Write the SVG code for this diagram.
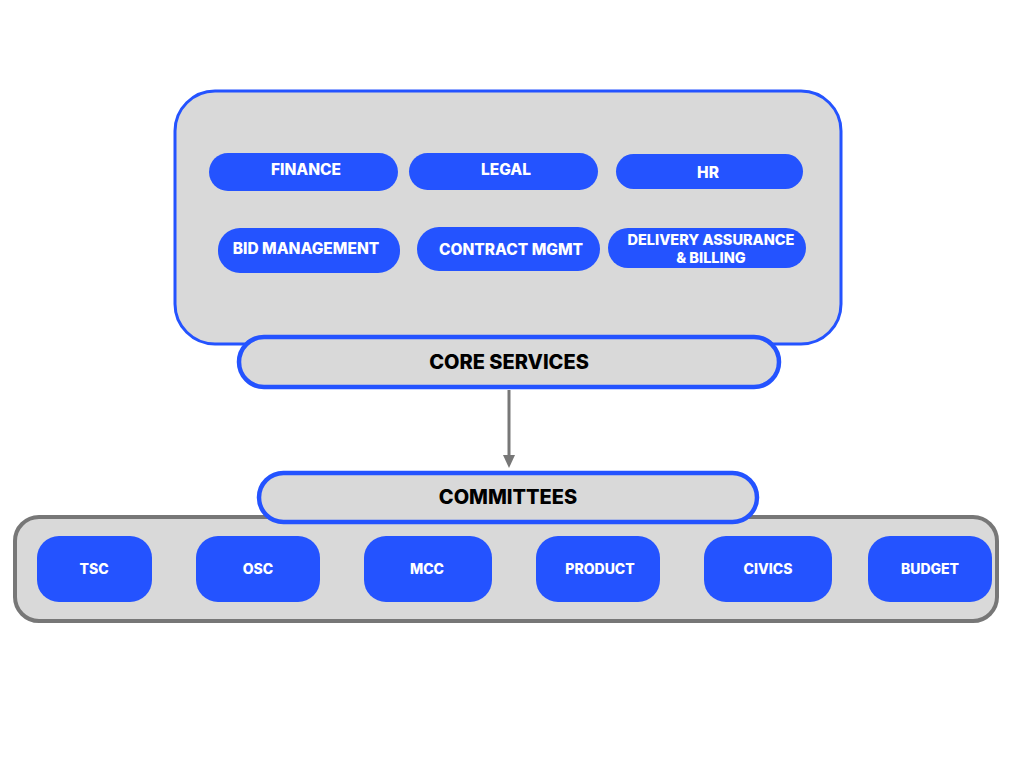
<svg xmlns="http://www.w3.org/2000/svg" width="1024" height="768" viewBox="0 0 1024 768">
<defs>
<style>
.pill{fill:#2453ff}
.lbl{font-family:Inter,"Open Sans","Liberation Sans",sans-serif;font-weight:800;fill:#ffffff;text-anchor:middle;dominant-baseline:central}
.hdr{font-family:Inter,"Open Sans","Liberation Sans",sans-serif;font-weight:800;fill:#000000;text-anchor:middle;dominant-baseline:central;font-size:20px}
</style>
<marker id="arr" markerWidth="14" markerHeight="14" refX="7" refY="7" orient="auto" markerUnits="userSpaceOnUse">
<path d="M0,1 L13,7 L0,13 z" fill="#777777"/>
</marker>
</defs>
<rect width="1024" height="768" fill="#ffffff"/>
<g id="core-container">
<rect x="175" y="91" width="666" height="253" rx="40" fill="#d9d9d9" stroke="#2453ff" stroke-width="3"/>
</g>
<g id="finance"><rect class="pill" x="209" y="153" width="189" height="38" rx="19"/><text class="lbl" x="306" y="169" font-size="15.5">FINANCE</text></g>
<g id="legal"><rect class="pill" x="409" y="153" width="189" height="37" rx="18.5"/><text class="lbl" x="506" y="169" font-size="15.5">LEGAL</text></g>
<g id="hr"><rect class="pill" x="616" y="154" width="187" height="35" rx="17.5"/><text class="lbl" x="708" y="172" font-size="15.5">HR</text></g>
<g id="bid"><rect class="pill" x="218" y="228" width="182" height="45" rx="22"/><text class="lbl" x="306" y="248" font-size="15.5">BID MANAGEMENT</text></g>
<g id="contract"><rect class="pill" x="417" y="227" width="183" height="44" rx="22"/><text class="lbl" x="511" y="249" font-size="15.5">CONTRACT MGMT</text></g>
<g id="delivery"><rect class="pill" x="608" y="228" width="198" height="40" rx="20"/><text class="lbl" x="711" y="239" font-size="14.5">DELIVERY ASSURANCE</text><text class="lbl" x="711" y="257" font-size="14.5">&amp; BILLING</text></g>
<g id="core-services"><rect x="239" y="337" width="540" height="50" rx="25" fill="#d9d9d9" stroke="#2453ff" stroke-width="4.5"/><text class="hdr" x="509" y="362">CORE SERVICES</text></g>
<g id="connectors">
<line x1="509" y1="390" x2="509" y2="462" stroke="#777777" stroke-width="3" marker-end="url(#arr)"/>
</g>
<g id="committees-container">
<rect x="15" y="517" width="982" height="104" rx="24" fill="#d9d9d9" stroke="#777777" stroke-width="4"/>
</g>
<g id="committees"><rect x="259" y="473" width="498" height="49" rx="24.5" fill="#d9d9d9" stroke="#2453ff" stroke-width="4.5"/><text class="hdr" x="508" y="497">COMMITTEES</text></g>
<g id="tsc"><rect class="pill" x="37" y="536" width="115" height="66" rx="22"/><text class="lbl" x="94" y="568" font-size="14">TSC</text></g>
<g id="osc"><rect class="pill" x="196" y="536" width="124" height="66" rx="22"/><text class="lbl" x="258" y="568" font-size="14">OSC</text></g>
<g id="mcc"><rect class="pill" x="364" y="536" width="128" height="66" rx="22"/><text class="lbl" x="427" y="568" font-size="14">MCC</text></g>
<g id="product"><rect class="pill" x="536" y="536" width="124" height="66" rx="22"/><text class="lbl" x="600" y="568" font-size="14">PRODUCT</text></g>
<g id="civics"><rect class="pill" x="704" y="536" width="128" height="66" rx="22"/><text class="lbl" x="768" y="568" font-size="14">CIVICS</text></g>
<g id="budget"><rect class="pill" x="868" y="536" width="124" height="66" rx="22"/><text class="lbl" x="930" y="568" font-size="14">BUDGET</text></g>
</svg>
